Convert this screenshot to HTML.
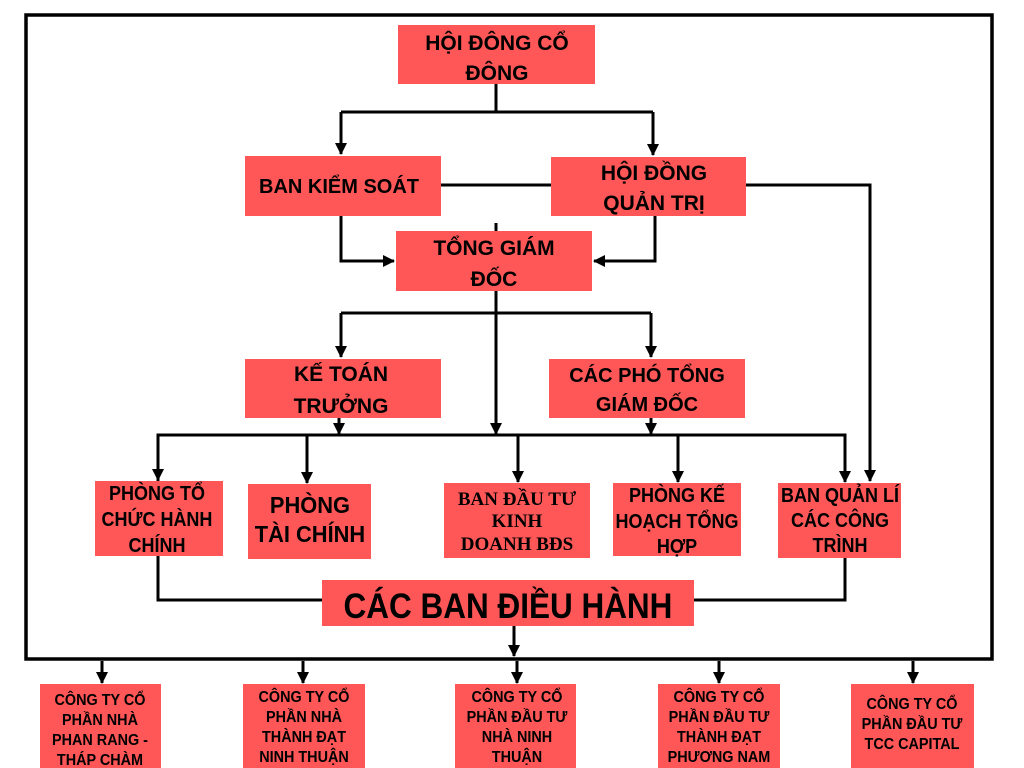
<!DOCTYPE html>
<html><head><meta charset="utf-8"><style>
html,body{margin:0;padding:0;background:#fff;}
svg{display:block}
text{font-family:"Liberation Sans","DejaVu Sans",sans-serif;font-weight:bold;fill:#000;text-anchor:middle}
.s{font-family:"Liberation Serif",serif}
</style></head><body>
<svg width="1024" height="768" viewBox="0 0 1024 768" xmlns="http://www.w3.org/2000/svg">
<defs><marker id="b" markerWidth="12" markerHeight="12" refX="11" refY="6" orient="auto" markerUnits="userSpaceOnUse"><path d="M0,0 L12,6 L0,12 z" fill="#000"/></marker></defs>
<rect x="26" y="15" width="966" height="644" fill="none" stroke="#000" stroke-width="3.5"/>
<g fill="#ff5757">
<rect x="398" y="25" width="197" height="59"/>
<rect x="245" y="156" width="196" height="60"/>
<rect x="551" y="157" width="195" height="59"/>
<rect x="396" y="231" width="196" height="60"/>
<rect x="245" y="359" width="196" height="59"/>
<rect x="549" y="359" width="196" height="59"/>
<rect x="95" y="481" width="128" height="75"/>
<rect x="248" y="484" width="123" height="75"/>
<rect x="444" y="483" width="146" height="75"/>
<rect x="613" y="483" width="128" height="73"/>
<rect x="778" y="483" width="123" height="75"/>
<rect x="322" y="580" width="372" height="46"/>
<rect x="40" y="684" width="121" height="84"/>
<rect x="243" y="684" width="122" height="84"/>
<rect x="455" y="684" width="121" height="84"/>
<rect x="658" y="684" width="122" height="84"/>
<rect x="851" y="684" width="123" height="84"/>
</g>
<g stroke="#000" stroke-width="3" fill="none">
<path d="M496,84V112M341,112H653"/>
<path d="M341,112V154" marker-end="url(#b)"/>
<path d="M653,112V155" marker-end="url(#b)"/>
<path d="M441,185H551"/>
<path d="M341,216V261H394" marker-end="url(#b)"/>
<path d="M655,216V261H594" marker-end="url(#b)"/>
<path d="M496,223V231"/>
<path d="M746,185H870V481" marker-end="url(#b)"/>
<path d="M496,291V313M341,313H651"/>
<path d="M341,313V357" marker-end="url(#b)"/>
<path d="M651,313V357" marker-end="url(#b)"/>
<path d="M496,291V434" marker-end="url(#b)"/>
<path d="M339,418V434" marker-end="url(#b)"/>
<path d="M651,418V434" marker-end="url(#b)"/>
<path d="M158,481V435H845V481"/>
<path d="M158,435V480" marker-end="url(#b)"/>
<path d="M307,435V483" marker-end="url(#b)"/>
<path d="M518,435V482" marker-end="url(#b)"/>
<path d="M678,435V482" marker-end="url(#b)"/>
<path d="M845,435V482" marker-end="url(#b)"/>
<path d="M158,556V600H322M845,558V600H694"/>
<path d="M514,626V656" marker-end="url(#b)"/>
<path d="M102,661V683" marker-end="url(#b)"/>
<path d="M303,661V683" marker-end="url(#b)"/>
<path d="M517,661V683" marker-end="url(#b)"/>
<path d="M719,661V683" marker-end="url(#b)"/>
<path d="M913,661V683" marker-end="url(#b)"/>
</g>
<g font-size="21">
<text x="497" y="50">HỘI ĐÔNG CỔ</text><text x="497" y="80">ĐÔNG</text>
<text x="339" y="193" font-size="20">BAN KIỂM SOÁT</text>
<text x="654" y="180">HỘI ĐỒNG</text><text x="654" y="210">QUẢN TRỊ</text>
<text x="494" y="255">TỔNG GIÁM</text><text x="494" y="286">ĐỐC</text>
<text x="341" y="381">KẾ TOÁN</text><text x="341" y="413">TRƯỞNG</text>
<text x="647" y="382" font-size="20">CÁC PHÓ TỔNG</text><text x="647" y="411" font-size="20">GIÁM ĐỐC</text>
</g>
<g font-size="20">
<g transform="translate(15.7,0) scale(0.9,1)"><text x="157" y="500">PHÒNG TỔ</text><text x="157" y="526">CHỨC HÀNH</text><text x="157" y="552">CHÍNH</text></g>
<g transform="translate(15.5,0) scale(0.95,1)" font-size="23"><text x="310" y="513">PHÒNG</text><text x="310" y="542">TÀI CHÍNH</text></g>
<g transform="translate(67.7,0) scale(0.9,1)"><text x="677" y="502">PHÒNG KẾ</text><text x="677" y="528">HOẠCH TỔNG</text><text x="677" y="553">HỢP</text></g>
<g transform="translate(84,0) scale(0.9,1)"><text x="840" y="502">BAN QUẢN LÍ</text><text x="840" y="527">CÁC CÔNG</text><text x="840" y="552">TRÌNH</text></g>
<g transform="translate(50.8,0) scale(0.9,1)" font-size="35"><text x="508" y="618">CÁC BAN ĐIỀU HÀNH</text></g>
</g>
<g font-size="19">
<text class="s" x="517" y="505">BAN ĐẦU TƯ</text><text class="s" x="517" y="527">KINH</text><text class="s" x="517" y="550">DOANH BĐS</text>
</g>
<g font-size="16">
<g transform="translate(10,0) scale(0.9,1)"><text x="100" y="705">CÔNG TY CỔ</text><text x="100" y="725">PHẦN NHÀ</text><text x="100" y="745">PHAN RANG -</text><text x="100" y="765">THÁP CHÀM</text></g>
<g transform="translate(30.4,0) scale(0.9,1)"><text x="304" y="702">CÔNG TY CỔ</text><text x="304" y="722">PHẦN NHÀ</text><text x="304" y="742">THÀNH ĐẠT</text><text x="304" y="762">NINH THUẬN</text></g>
<g transform="translate(51.7,0) scale(0.9,1)"><text x="517" y="702">CÔNG TY CỔ</text><text x="517" y="722">PHẦN ĐẦU TƯ</text><text x="517" y="742">NHÀ NINH</text><text x="517" y="762">THUẬN</text></g>
<g transform="translate(71.9,0) scale(0.9,1)"><text x="719" y="702">CÔNG TY CỔ</text><text x="719" y="722">PHẦN ĐẦU TƯ</text><text x="719" y="742">THÀNH ĐẠT</text><text x="719" y="762">PHƯƠNG NAM</text></g>
<g transform="translate(91.2,0) scale(0.9,1)"><text x="912" y="709">CÔNG TY CỔ</text><text x="912" y="729">PHẦN ĐẦU TƯ</text><text x="912" y="749">TCC CAPITAL</text></g>
</g>
</svg>
</body></html>
